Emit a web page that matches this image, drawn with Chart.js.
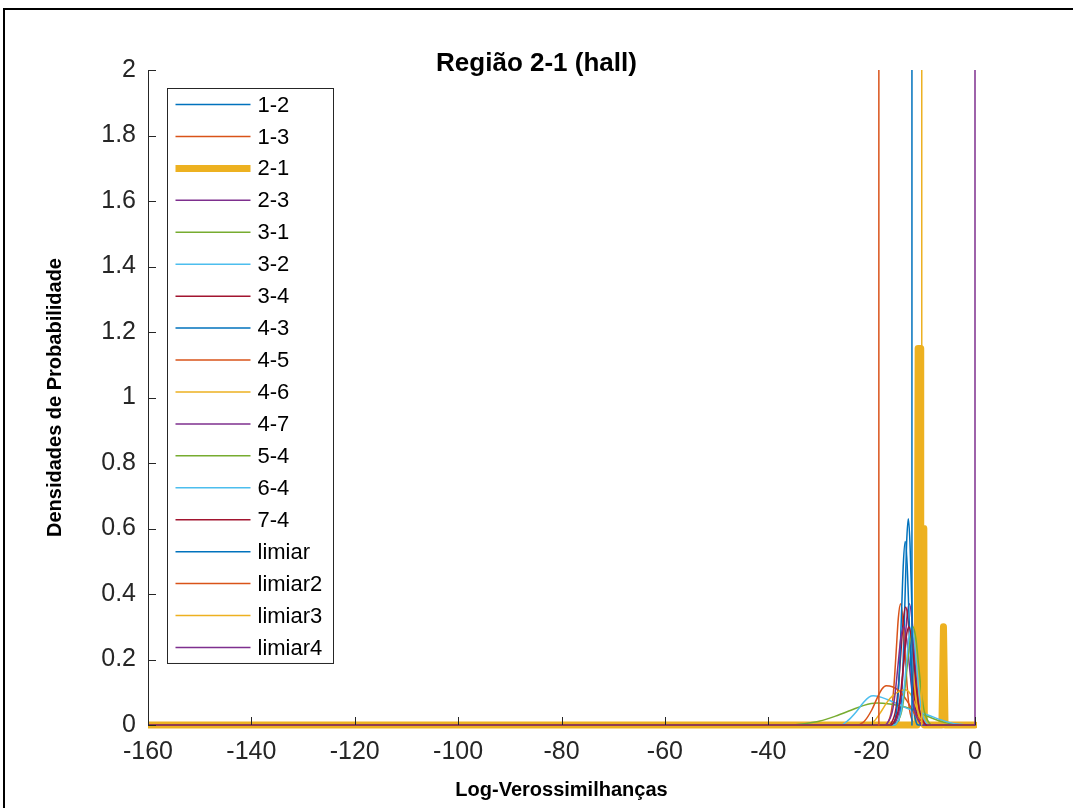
<!DOCTYPE html>
<html>
<head>
<meta charset="utf-8">
<script src="https://cdn.jsdelivr.net/npm/chart.js@4.4.0/dist/chart.umd.min.js"></script>
<style>
html,body{margin:0;padding:0;background:#fff;}
#wrap{position:relative;width:1073px;height:808px;overflow:hidden;}
#frame{position:absolute;left:3px;top:8px;right:-10px;bottom:-10px;border-left:2px solid #000;border-top:2px solid #000;pointer-events:none;}
</style>
</head>
<body>
<div id="wrap"><canvas id="chart" width="1073" height="808"></canvas><div id="frame"></div></div>
<script>
// series names, in plot order
const seriesNames = ['1-2','1-3','2-1','2-3','3-1','3-2','3-4','4-3','4-5','4-6','4-7','5-4','6-4','7-4','limiar','limiar2','limiar3','limiar4'];
const xTicks = [-160,-140,-120,-100,-80,-60,-40,-20,0];
const yTicks = [0,0.2,0.4,0.6,0.8,1,1.2,1.4,1.6,1.8,2];

// density curves: [log-likelihood, density]
const s12 = [[-160,0],[-15.2,0],[-14.85,0.007],[-14.2,0.085],[-13.88,0.205],[-13.55,0.382],[-13.23,0.556],[-12.9,0.63],[-12.58,0.556],[-12.25,0.382],[-11.93,0.205],[-11.6,0.085],[-10.95,0.007],[-10.6,0],[0,0]];
const s13 = [[-160,0],[-17.3,0],[-16.95,0.004],[-16.1,0.05],[-15.68,0.12],[-15.25,0.224],[-14.83,0.327],[-14.4,0.37],[-13.98,0.327],[-13.55,0.224],[-13.13,0.12],[-12.7,0.05],[-11.85,0.004],[-11.5,0],[0,0]];
const s21 = [[-160,0],[-11.2,0],[-11.0,1.15],[-10.6,1.15],[-10.5,0.6],[-9.9,0.6],[-9.8,0],[-6.4,0],[-6.1,0.3],[-5.8,0],[0,0]];
const s23 = [[-160,0],[-15.9,0],[-15.55,0.004],[-14.6,0.05],[-14.13,0.12],[-13.65,0.224],[-13.18,0.327],[-12.7,0.37],[-12.23,0.327],[-11.75,0.224],[-11.28,0.12],[-10.8,0.05],[-9.85,0.004],[-9.5,0],[0,0]];
const s31 = [[-160,0],[-36,0],[-33,0.004],[-30,0.012],[-27,0.027],[-24,0.045],[-21.5,0.06],[-19,0.067],[-16.5,0.064],[-13.5,0.055],[-11,0.04],[-8.5,0.022],[-6,0.008],[-4,0.002],[-2,0],[0,0]];
const s32 = [[-160,0],[-26,0],[-24.5,0.015],[-23,0.04],[-21.5,0.07],[-20.5,0.085],[-19.7,0.089],[-18.5,0.086],[-17,0.078],[-15,0.065],[-13,0.05],[-11,0.04],[-9,0.03],[-7,0.018],[-5,0.008],[-3,0.002],[-1,0],[0,0]];
const s34 = [[-160,0],[-16.6,0],[-16.25,0.004],[-15.3,0.049],[-14.83,0.117],[-14.35,0.218],[-13.88,0.318],[-13.4,0.36],[-12.93,0.318],[-12.45,0.218],[-11.98,0.117],[-11.5,0.049],[-10.55,0.004],[-10.2,0],[0,0]];
const s43 = [[-160,0],[-16.0,0],[-15.66,0.006],[-14.94,0.076],[-14.58,0.182],[-14.22,0.34],[-13.86,0.494],[-13.5,0.56],[-13.14,0.494],[-12.78,0.34],[-12.42,0.182],[-12.06,0.076],[-11.34,0.006],[-11.0,0],[0,0]];
const s45 = [[-160,0],[-23,0],[-21.5,0.01],[-20,0.045],[-19,0.08],[-18,0.11],[-17.2,0.12],[-16,0.117],[-14.5,0.102],[-13,0.07],[-11.5,0.03],[-10,0.008],[-9,0],[0,0]];
const s46 = [[-160,0],[-21,0],[-19.5,0.012],[-18,0.045],[-17,0.07],[-16,0.088],[-14.5,0.104],[-13.5,0.108],[-12.5,0.095],[-11.5,0.06],[-10.5,0.025],[-9.5,0.006],[-8.5,0],[0,0]];
const s47 = [[-160,0],[-17.5,0],[-17.1,0.003],[-16.0,0.041],[-15.45,0.097],[-14.9,0.182],[-14.35,0.265],[-13.8,0.3],[-13.25,0.265],[-12.7,0.182],[-12.15,0.097],[-11.6,0.041],[-10.5,0.003],[-10.1,0],[0,0]];
const s54 = [[-160,0],[-15.7,0],[-15.3,0.003],[-14.2,0.041],[-13.65,0.097],[-13.1,0.182],[-12.55,0.265],[-12,0.3],[-11.45,0.265],[-10.9,0.182],[-10.35,0.097],[-9.8,0.041],[-8.7,0.003],[-8.3,0],[0,0]];
const s64 = [[-160,0],[-15.7,0],[-15.3,0.003],[-14.3,0.041],[-13.8,0.097],[-13.3,0.182],[-12.8,0.265],[-12.3,0.3],[-11.8,0.265],[-11.3,0.182],[-10.8,0.097],[-10.3,0.041],[-9.3,0.003],[-8.9,0],[0,0]];
const s74 = [[-160,0],[-16.3,0],[-15.95,0.003],[-14.9,0.041],[-14.38,0.097],[-13.85,0.182],[-13.33,0.265],[-12.8,0.3],[-12.28,0.265],[-11.75,0.182],[-11.23,0.097],[-10.7,0.041],[-9.65,0.003],[-9.3,0],[0,0]];
// thresholds (vertical lines)
const limiar = [[-12.2,0],[-12.2,2.2]];
const limiar2 = [[-18.6,0],[-18.6,2.2]];
const limiar3 = [[-10.3,0],[-10.3,2.2]];
const limiar4 = [[0,0],[0,2.2]];

const seriesData = [s12,s13,s21,s23,s31,s32,s34,s43,s45,s46,s47,s54,s64,s74,limiar,limiar2,limiar3,limiar4];
const seriesColors = ['#0072BD','#D95319','#EDB120','#7E2F8E','#77AC30','#4DBEEE','#A2142F',
                      '#0072BD','#D95319','#EDB120','#7E2F8E','#77AC30','#4DBEEE','#A2142F',
                      '#0072BD','#D95319','#EDB120','#7E2F8E'];

const FONT = "'Liberation Sans', Arial, sans-serif";
const AXIS = '#262626';

const datasets = seriesNames.map((name, i) => {
    const thick = name === '2-1';
    const vertical = name.startsWith('limiar');
    return {
        label: name,
        data: seriesData[i],
        borderColor: seriesColors[i],
        backgroundColor: seriesColors[i],
        borderWidth: thick ? 7 : 1.5,
        showLine: true,
        pointRadius: 0,
        pointHoverRadius: 0,
        fill: false,
        tension: (thick || vertical) ? 0 : 0.4,
        cubicInterpolationMode: (thick || vertical) ? 'default' : 'monotone',
        borderJoinStyle: 'round',
        borderCapStyle: 'round',
        clip: { left: 0, right: 2, top: 0, bottom: 6 },
        order: seriesNames.length - i   // later series on top, like the original
    };
});

// small tick marks pointing into the plot
const innerTicks = {
    id: 'innerTicks',
    afterDatasetsDraw(chart){
        const {ctx, chartArea: a, scales: {x, y}} = chart;
        ctx.save();
        ctx.strokeStyle = AXIS;
        ctx.lineWidth = 1;
        ctx.beginPath();
        x.ticks.forEach(t => {
            const px = Math.round(x.getPixelForValue(t.value)) + 0.5;
            ctx.moveTo(px, a.bottom); ctx.lineTo(px, a.bottom - 8);
        });
        y.ticks.forEach(t => {
            const py = Math.round(y.getPixelForValue(t.value)) + 0.5;
            ctx.moveTo(a.left, py); ctx.lineTo(a.left + 8, py);
        });
        ctx.stroke();
        ctx.restore();
    }
};

// legend box inside the plot, top-left
const boxLegend = {
    id: 'boxLegend',
    afterDraw(chart){
        const {ctx, chartArea: a} = chart;
        const ds = chart.data.datasets;
        const left = a.left + 19.5, top = a.top + 18.5;
        const rowH = 31.94, pad = 16;
        const w = 166, h = pad * 2 + rowH * (ds.length - 1);
        ctx.save();
        ctx.fillStyle = '#fff';
        ctx.fillRect(left, top, w, h);
        ctx.strokeStyle = AXIS;
        ctx.lineWidth = 1;
        ctx.strokeRect(left, top, w, h);
        ctx.font = '22px ' + FONT;
        ctx.textBaseline = 'middle';
        ctx.textAlign = 'left';
        ds.forEach((d, i) => {
            const yy = top + pad + rowH * i;
            ctx.beginPath();
            ctx.strokeStyle = d.borderColor;
            ctx.lineWidth = d.borderWidth;
            ctx.lineCap = 'butt';
            ctx.moveTo(left + 8, yy);
            ctx.lineTo(left + 83, yy);
            ctx.stroke();
            ctx.fillStyle = '#000';
            ctx.fillText(d.label, left + 90, yy + 1);
        });
        ctx.restore();
    }
};

new Chart(document.getElementById('chart').getContext('2d'), {
    type: 'scatter',
    data: { datasets },
    options: {
        responsive: false,
        animation: false,
        devicePixelRatio: 1,
        layout: { padding: 0 },
        plugins: {
            legend: { display: false },
            tooltip: { enabled: false },
            title: {
                display: true,
                text: 'Região 2-1 (hall)',
                color: '#000',
                font: { family: FONT, size: 26, weight: 'bold', lineHeight: 0.5 },
                padding: { top: 57, bottom: 0 }
            }
        },
        scales: {
            x: {
                type: 'linear',
                min: -160, max: 0,
                afterBuildTicks: s => { s.ticks = xTicks.map(v => ({value: v})); },
                afterFit: s => { s.height = 83; },
                grid: { display: false, drawTicks: false },
                border: { display: true, color: AXIS, width: 1 },
                ticks: { color: AXIS, padding: 12, font: { family: FONT, size: 25 } },
                title: {
                    display: true,
                    text: 'Log-Verossimilhanças',
                    color: '#000',
                    font: { family: FONT, size: 20, weight: 'bold' },
                    padding: { top: 0, bottom: 6 }
                }
            },
            y: {
                type: 'linear',
                min: 0, max: 2,
                afterBuildTicks: s => { s.ticks = yTicks.map(v => ({value: v})); },
                afterFit: s => { s.width = 148; },
                grid: { display: false, drawTicks: false },
                border: { display: true, color: AXIS, width: 1 },
                ticks: { color: AXIS, padding: 12, font: { family: FONT, size: 25 },
                         callback: v => String(+v.toFixed(1)) },
                title: {
                    display: true,
                    text: 'Densidades de Probabilidade',
                    color: '#000',
                    font: { family: FONT, size: 20, weight: 'bold' },
                    padding: { top: 43, bottom: 0 }
                }
            },
            // empty right-hand margin so the title centres on the whole figure
            yPad: {
                type: 'linear',
                position: 'right',
                min: 0, max: 2,
                afterFit: s => { s.width = 98; },
                grid: { display: false, drawTicks: false },
                border: { display: false },
                ticks: { display: false }
            }
        }
    },
    plugins: [innerTicks, boxLegend]
});
</script>
</body>
</html>
